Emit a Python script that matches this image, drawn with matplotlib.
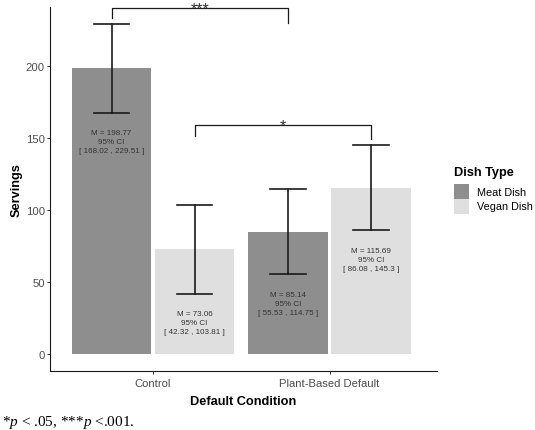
import matplotlib
matplotlib.use("Agg")
import matplotlib.pyplot as plt
import numpy as np
from matplotlib.patches import Rectangle

plt.rcParams["font.family"] = ["Liberation Sans", "DejaVu Sans"]
plt.rcParams["mathtext.fontset"] = "custom"
plt.rcParams["mathtext.rm"] = "Liberation Serif"
plt.rcParams["mathtext.it"] = "Liberation Serif:italic"

# data
conditions = ["Control", "Plant-Based Default"]
dish_types = ["Meat Dish", "Vegan Dish"]
means = {"Meat Dish": [198.77, 85.14], "Vegan Dish": [73.06, 115.69]}
ci_low = {"Meat Dish": [168.02, 55.53], "Vegan Dish": [42.32, 86.08]}
ci_high = {"Meat Dish": [229.51, 114.75], "Vegan Dish": [103.81, 145.3]}
y_ticks = [0, 50, 100, 150, 200]

# significance brackets: (dish, condition a, condition b, stars, bar height, tip a, tip b)
brackets = [
    ("Meat Dish", 0, 1, "***", 240.6, 233.7, 230.2),
    ("Vegan Dish", 0, 1, "*", 159.4, 151.7, 149.7),
]

colors = {"Meat Dish": "#8e8e8e", "Vegan Dish": "#dfdfdf"}
offsets = {"Meat Dish": -0.235, "Vegan Dish": 0.235}
bar_width = 0.45
cap_half = 0.1

W, H = 535, 431
fig = plt.figure(figsize=(W / 100, H / 100), dpi=100)
ax = fig.add_axes([50 / W, 59 / H, 387 / W, 364 / H])

x = np.arange(len(conditions))
for dish in dish_types:
    xs = x + offsets[dish]
    ax.bar(xs, means[dish], width=bar_width, color=colors[dish], zorder=1)
    for xi, lo, hi, m in zip(xs, ci_low[dish], ci_high[dish], means[dish]):
        ax.plot([xi, xi], [lo, hi], color="#1a1a1a", lw=1.2, zorder=3)
        for yv in (lo, hi):
            ax.plot([xi - cap_half, xi + cap_half], [yv, yv], color="#1a1a1a", lw=1.2, zorder=3)
        ax.text(xi, lo - 20, f"M = {m:g}\n95% CI\n[ {lo:g} , {hi:g} ]",
                ha="center", va="center", fontsize=5.75, color="#333333",
                linespacing=1.45, zorder=4)

for dish, a, b, stars, yb, ta, tb in brackets:
    xa = x[a] + offsets[dish]
    xb = x[b] + offsets[dish]
    ax.plot([xa, xa, xb, xb], [ta, yb, yb, tb], color="#1a1a1a", lw=0.9,
            clip_on=False, zorder=3)
    ax.text((xa + xb) / 2, yb - 3.4, stars, ha="center", va="baseline",
            fontsize=11.5, color="#333333", clip_on=False)

ax.set_xlim(-0.584, 1.609)
ax.set_ylim(-11.5, 241.3)
ax.set_xticks(x)
ax.set_xticklabels(conditions)
ax.set_yticks(y_ticks)
ax.tick_params(length=2.2, width=0.7, color="#333333", labelsize=8.1,
               labelcolor="#4d4d4d", pad=1.5)
ax.tick_params(axis="x", pad=2.8)
for side in ("top", "right"):
    ax.spines[side].set_visible(False)
for side in ("left", "bottom"):
    ax.spines[side].set_linewidth(0.8)
    ax.spines[side].set_color("#1a1a1a")

ax.set_xlabel("Default Condition", fontsize=9.2, fontweight="bold", va="top")
ax.xaxis.set_label_coords(0.5, -0.066)
ax.set_ylabel("Servings", fontsize=9.2, fontweight="bold")
ax.yaxis.set_label_coords(-0.070, 0.5)

# legend, drawn by hand in figure pixels
fig.text(454 / W, 1 - 173 / H, "Dish Type", fontsize=9.2, fontweight="bold",
         ha="left", va="center")
for i, dish in enumerate(dish_types):
    top = 185 + 15 * i
    fig.patches.append(Rectangle((454 / W, 1 - (top + 15) / H), 15 / W, 15 / H,
                                 transform=fig.transFigure, facecolor=colors[dish],
                                 edgecolor="none"))
    fig.text(477 / W, 1 - (top + 7.5) / H, dish, fontsize=7.8, ha="left", va="center")

fig.text(2 / W, 5 / H, r"*$p$ < .05, ***$p$ <.001.", fontsize=11,
         family="Liberation Serif", ha="left", va="baseline")

fig.savefig("out.png", dpi=100)
